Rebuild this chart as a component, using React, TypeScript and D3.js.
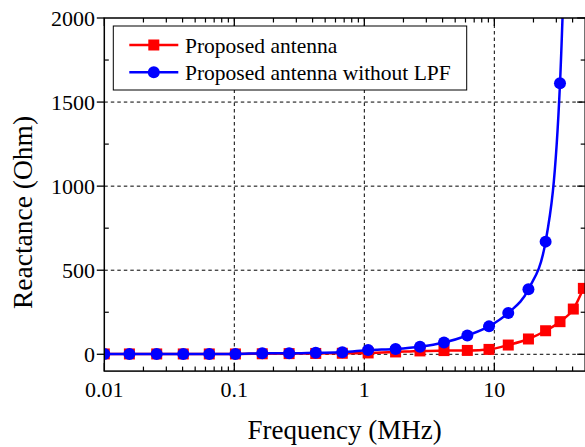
import React from "react";
import * as d3 from "d3";

const FREQ = [0.01, 0.0156, 0.0253, 0.0405, 0.0642, 0.102, 0.164, 0.264, 0.423, 0.677, 1.07, 1.74, 2.68, 4.1, 6.2, 9.1, 12.8, 18.3, 24.8, 32.0, 40.5, 48.4];
const RED = [2, 2, 2, 2, 2, 2, 3, 4, 5, 6, 8, 14, 20, 22, 23, 29, 55, 91, 140, 194, 269, 392];
const BLUE = [2, 2, 2, 2, 2, 2, 6, 6, 9, 12, 25, 32, 45, 70, 112, 166, 246, 387, 670, 1612, 4300];
const X_MAJOR = [0.01, 0.1, 1, 10];
const X_LABELS = ["0.01", "0.1", "1", "10"];
const Y_MAJOR = [0, 500, 1000, 1500, 2000];
const Y_MINOR = [250, 750, 1250, 1750];
const LEGEND = ["Proposed antenna", "Proposed antenna without LPF"];

const W = 585, H = 447;
const L = 104.3, R = 585.2, T = 18, B = 371.1;
const FONT = "Liberation Serif";

export default function App() {
  const x = d3.scaleLog().domain([0.01, 50]).range([L, R]);
  const y = d3.scaleLinear().domain([-100, 2000]).range([B, T]);
  const xMinor: number[] = [];
  [0.01, 0.1, 1, 10].forEach((d) => {
    for (let k = 2; k <= 9; k++) {
      const v = d * k;
      if (v < 50) xMinor.push(v);
    }
  });
  const line = d3
    .line<[number, number]>()
    .x((d) => x(d[0]))
    .y((d) => y(d[1]))
    .curve(d3.curveMonotoneX);
  const redPts = RED.map((v, i) => [FREQ[i], v] as [number, number]);
  const bluePts = BLUE.map((v, i) => [FREQ[i], v] as [number, number]);
  const red = "#ff0000", blue = "#0000ff";
  const dash = "3.5,3";
  const ts = { fontFamily: FONT };

  return (
    <svg width={W} height={H} style={{ position: "absolute", left: 0, top: 0, background: "#fff", fontFamily: FONT }}>
      <defs>
        <clipPath id="plot">
          <rect x={L} y={T} width={R - L} height={B - T} />
        </clipPath>
      </defs>
      <rect x={0} y={0} width={W} height={H} fill="#fff" />
      {X_MAJOR.slice(1).map((d) => (
        <line key={"gx" + d} x1={x(d)} x2={x(d)} y1={T} y2={B} stroke="#000" strokeWidth={1} strokeDasharray={dash} />
      ))}
      {Y_MAJOR.slice(0, 4).map((d) => (
        <line key={"gy" + d} x1={L} x2={R} y1={y(d)} y2={y(d)} stroke="#000" strokeWidth={1} strokeDasharray={dash} />
      ))}
      <g clipPath="url(#plot)">
        <path d={line(redPts) || ""} fill="none" stroke={red} strokeWidth={2.5} />
        {redPts.map((p, i) => (
          <rect key={"r" + i} x={x(p[0]) - 5.5} y={y(p[1]) - 5.5} width={11} height={11} fill={red} />
        ))}
        <path d={line(bluePts) || ""} fill="none" stroke={blue} strokeWidth={2.5} />
        {bluePts.map((p, i) => (
          <circle key={"b" + i} cx={x(p[0])} cy={y(p[1])} r={6} fill={blue} />
        ))}
      </g>
      <rect x={L} y={T} width={R - L} height={B - T} fill="none" stroke="#000" strokeWidth={1.5} />
      {X_MAJOR.map((d) => (
        <g key={"xt" + d}>
          <line x1={x(d)} x2={x(d)} y1={B} y2={B - 8} stroke="#000" strokeWidth={1.3} />
          <line x1={x(d)} x2={x(d)} y1={T} y2={T + 8} stroke="#000" strokeWidth={1.3} />
        </g>
      ))}
      {xMinor.map((d) => (
        <g key={"xm" + d}>
          <line x1={x(d)} x2={x(d)} y1={B} y2={B - 4.5} stroke="#000" strokeWidth={1.2} />
          <line x1={x(d)} x2={x(d)} y1={T} y2={T + 4.5} stroke="#000" strokeWidth={1.2} />
        </g>
      ))}
      {X_MAJOR.map((d, i) => (
        <text key={"xl" + d} x={x(d)} y={397} textAnchor="middle" style={ts} fontSize={22} fill="#000">
          {X_LABELS[i]}
        </text>
      ))}
      {Y_MAJOR.map((d) => (
        <g key={"yt" + d}>
          <line x1={L - 7.5} x2={L} y1={y(d)} y2={y(d)} stroke="#000" strokeWidth={1.3} />
          <line x1={R - 8} x2={R} y1={y(d)} y2={y(d)} stroke="#000" strokeWidth={1.3} />
        </g>
      ))}
      {Y_MINOR.map((d) => (
        <g key={"ym" + d}>
          <line x1={L} x2={L + 4.5} y1={y(d)} y2={y(d)} stroke="#000" strokeWidth={1.2} />
          <line x1={R - 4.5} x2={R} y1={y(d)} y2={y(d)} stroke="#000" strokeWidth={1.2} />
        </g>
      ))}
      {Y_MAJOR.map((d) => (
        <text key={"yl" + d} x={95} y={y(d) + 8} textAnchor="end" style={ts} fontSize={22} fill="#000">
          {d}
        </text>
      ))}
      <text x={(246.7 + 442.7) / 2} y={439} textAnchor="middle" style={ts} fontSize={27} fill="#000">
        Frequency (MHz)
      </text>
      <text transform={`translate(32, 212.5) rotate(-90)`} textAnchor="middle" style={ts} fontSize={27.5} fill="#000">
        Reactance (Ohm)
      </text>
      <rect x={113.3} y={26} width={353.4} height={64} fill="#fff" stroke="#000" strokeWidth={1} />
      <line x1={129.3} x2={178.3} y1={45} y2={45} stroke={red} strokeWidth={2.5} />
      <rect x={153.8 - 5.5} y={45 - 5.5} width={11} height={11} fill={red} />
      <text x={185} y={52.5} style={ts} fontSize={21.5} fill="#000">
        {LEGEND[0]}
      </text>
      <line x1={129.3} x2={178.3} y1={72.3} y2={72.3} stroke={blue} strokeWidth={2.5} />
      <circle cx={153.8} cy={72.3} r={6} fill={blue} />
      <text x={185} y={79.8} style={ts} fontSize={21.5} fill="#000">
        {LEGEND[1]}
      </text>
    </svg>
  );
}
